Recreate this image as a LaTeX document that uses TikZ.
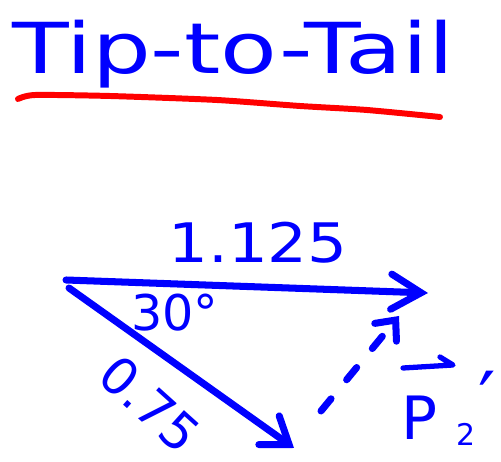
\documentclass[tikz,border=0pt]{standalone}
\usepackage{fontspec}
\setmainfont{DejaVu Sans}
\usetikzlibrary{arrows.meta}
\definecolor{penblue}{RGB}{0,0,255}
\definecolor{penred}{RGB}{255,0,0}
\begin{document}
\begin{tikzpicture}[x=0.02cm,y=-0.02cm,
  pen/.style={penblue, line width=4pt, line cap=round, line join=round},
  lbl/.style={penblue, inner sep=0pt},
  barb/.style={-{Straight Barb[length=#1, width=20pt, line cap=round]}},
]
\useasboundingbox (0,0) rectangle (501,462);
% title
\node[lbl, anchor=base west, font=\fontsize{40}{41}\selectfont] (title) at (12,74) {\scalebox{1.32}[1]{Tip-to-Tail}};
\draw[penred, line width=3.4pt, line cap=round] plot[smooth, tension=0.4] coordinates {(18,99) (35,95) (110,96) (217,100) (300,106) (367,110) (440,117)};
% vectors
\coordinate (O1) at (66,280);
\coordinate (A) at (428,293);
\coordinate (O2) at (69,288);
\coordinate (B) at (294,448);
\coordinate (C) at (321,411);
\coordinate (D) at (399,316);
\draw[pen, barb=17pt] (O1) -- (A);
\draw[pen, barb=14pt] (O2) -- (B);
\draw[pen, dash pattern=on 9pt off 14pt, -{Straight Barb[length=9pt, width=16pt, line cap=round]}] (C) -- (D);
% labels
\node[lbl, font=\fontsize{31}{32}\selectfont] (mag1) at (258,243) {\scalebox{1.15}[1]{1.125}};
\node[lbl, font=\fontsize{28}{29}\selectfont] (ang) at (175,313) {30°};
\node[lbl, font=\fontsize{29}{30}\selectfont, rotate=-42] (mag2) at (150,404) {0.75};
\node[lbl, font=\fontsize{34}{35}\selectfont] (P) at (420,418) {P};
\node[lbl, font=\fontsize{17}{18}\selectfont] (sub) at (466,434) {2};
\node[lbl, font=\fontsize{44}{45}\selectfont] (prime) at (487,399) {′};
% arrow over P
\draw[pen, line width=3pt] (403,368) -- (453,365) -- (440,357);
\end{tikzpicture}
\end{document}
